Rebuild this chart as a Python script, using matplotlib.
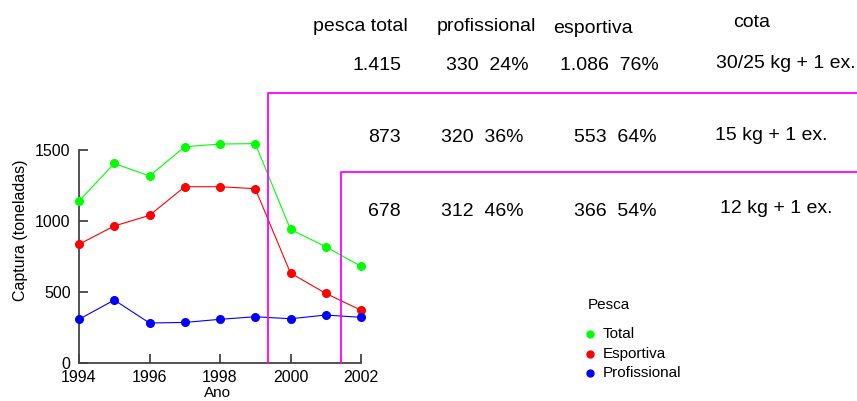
import matplotlib
matplotlib.use("Agg")
import matplotlib.pyplot as plt
from matplotlib.lines import Line2D

plt.rcParams['font.family'] = ['Liberation Sans', 'DejaVu Sans']

# data
anos = [1994, 1995, 1996, 1997, 1998, 1999, 2000, 2001, 2002]
total = [1140, 1405, 1317, 1523, 1542, 1545, 940, 818, 680]
esportiva = [835, 964, 1039, 1241, 1241, 1227, 632, 489, 370]
profissional = [306, 442, 280, 284, 306, 324, 310, 336, 320]

serie_nomes = ['Total', 'Esportiva', 'Profissional']
serie_cores = ['#00ff00', '#ff0000', '#0000ff']

# table on the right
cabecalho = ['pesca total', 'profissional', 'esportiva', 'cota']
col_total = ['1.415', '873', '678']
col_prof = ['330  24%', '320  36%', '312  46%']
col_esp = ['1.086  76%', '553  64%', '366  54%']
col_cota = ['30/25 kg + 1 ex.', '15 kg + 1 ex.', '12 kg + 1 ex.']

W, H = 857, 401
fig = plt.figure(figsize=(W / 100, H / 100), dpi=100)


def fx(px):
    return px / W


def fy(py):
    return 1 - py / H


cinza = '#444444'
ax = fig.add_axes([fx(79), fy(362.7), fx(361 - 79), (362.7 - 150) / H])
for vals, cor in zip([total, esportiva, profissional], serie_cores):
    ax.plot(anos, vals, color=cor, lw=0.8, marker='o', ms=5.5,
            mec=cor, clip_on=False, zorder=3)

ax.set_xlim(1994, 2002)
ax.set_ylim(0, 1500)
ax.set_xticks([1994, 1996, 1998, 2000, 2002])
ax.set_yticks([0, 500, 1000, 1500])
ax.spines['top'].set_visible(False)
ax.spines['right'].set_visible(False)
for s in ['left', 'bottom']:
    ax.spines[s].set_color(cinza)
    ax.spines[s].set_linewidth(1.3)
ax.tick_params(labelsize=11.5, length=6.5, width=1.3, color=cinza,
               direction='in')
ax.tick_params(axis='y', pad=6)
ax.tick_params(axis='x', pad=5)
ax.set_ylabel('Captura (toneladas)', fontsize=11.5)
ax.yaxis.set_label_coords((21 - 79) / (361 - 79), (362.7 - 230) / (362.7 - 150))
ax.yaxis.label.set_va('center')
ax.set_xlabel('Ano', fontsize=11)
ax.xaxis.set_label_coords((217 - 79) / (361 - 79), -(386 - 362.7) / (362.7 - 150))
ax.xaxis.label.set_va('top')
ax.patch.set_alpha(0)

# magenta period boxes
mag = '#ff00ff'
for x0, y0 in [(268.3, 93.3), (340.5, 171.7)]:
    fig.add_artist(Line2D([fx(x0), fx(x0), 1.0], [fy(362.7), fy(y0), fy(y0)],
                          color=mag, lw=1.3, transform=fig.transFigure))

# table texts (baseline positions)
fs = 14
fig.text(fx(313), fy(31), cabecalho[0], fontsize=fs, ha='left', va='baseline')
fig.text(fx(437), fy(31), cabecalho[1], fontsize=fs, ha='left', va='baseline')
fig.text(fx(553), fy(33), cabecalho[2], fontsize=fs, ha='left', va='baseline')
fig.text(fx(752), fy(27), cabecalho[3], fontsize=fs, ha='center', va='baseline')

linhas_y = [70, 141.5, 216.5]
prof_x = [446, 441, 441]
esp_x = [560, 574, 574]
cota_x = [716, 715, 720]
cota_y = [68, 140, 213]
for i, y in enumerate(linhas_y):
    fig.text(fx(401), fy(y), col_total[i], fontsize=fs, ha='right', va='baseline')
    fig.text(fx(prof_x[i]), fy(y), col_prof[i], fontsize=fs, ha='left', va='baseline')
    fig.text(fx(esp_x[i]), fy(y), col_esp[i], fontsize=fs, ha='left', va='baseline')
    fig.text(fx(cota_x[i]), fy(cota_y[i]), col_cota[i], fontsize=fs,
             ha='left', va='baseline')

# legend
fig.text(fx(588), fy(309), 'Pesca', fontsize=11, ha='left', va='baseline')
for k, (nome, cor) in enumerate(zip(serie_nomes, serie_cores)):
    ym = 334 + k * 19.7
    fig.add_artist(Line2D([fx(590)], [fy(ym)], ls='none', marker='o', ms=5,
                          color=cor, transform=fig.transFigure))
    fig.text(fx(603), fy(ym), nome, fontsize=11, ha='left', va='center')

fig.savefig('out.png', dpi=100)
